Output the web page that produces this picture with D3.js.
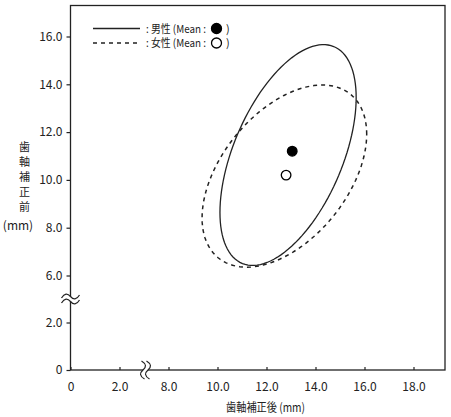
<!DOCTYPE html>
<html>
<head>
<meta charset="utf-8">
<script src="https://cdn.jsdelivr.net/npm/d3@7"></script>
<style>
  body { margin: 0; background: #fff; }
  text { font-family: "Noto Sans CJK JP", "Noto Sans", sans-serif; fill: #222; }
</style>
</head>
<body>
<svg id="chart" width="451" height="417"></svg>
<script>
// data
const groups = ['男性', '女性'];
const meanX = [13.05, 12.8];
const meanY = [11.2, 10.2];
// confidence ellipses: centre, spread along x / y, correlation
const ellCx = [12.88, 12.73];
const ellCy = [11.04, 10.16];
const ellSx = [2.78, 3.36];
const ellSy = [4.62, 3.81];
const ellR = [0.52, 0.46];
const xTicks = [0, 2, 8, 10, 12, 14, 16, 18];
const yTicks = [0, 2, 6, 8, 10, 12, 14, 16];
const xBreak = [2, 8];
const yBreak = [2, 6];
const xTitle = '歯軸補正後 (mm)';
const yTitleChars = ['歯', '軸', '補', '正', '前'];

const svg = d3.select('#chart');
const ink = '#222';

// broken axes -> polylinear scales
const x = d3.scaleLinear().domain([0, 2, 8, 18]).range([70.5, 119.5, 168.5, 413.5]);
const y = d3.scaleLinear().domain([0, 2, 6, 16]).range([370, 322.5, 275.5, 36.5]);
const plot = { left: 70.5, right: 445, top: 5.5, bottom: 370 };

const fmt = d => d === 0 ? '0' : d.toFixed(1);

// frame
svg.append('rect')
  .attr('x', plot.left).attr('y', plot.top)
  .attr('width', plot.right - plot.left).attr('height', plot.bottom - plot.top)
  .attr('fill', 'none').attr('stroke', ink).attr('stroke-width', 1.3);

// y axis
const gy = svg.append('g')
  .attr('transform', `translate(${plot.left},0)`)
  .call(d3.axisLeft(y).tickValues(yTicks).tickFormat(fmt).tickSize(4).tickSizeOuter(0).tickPadding(4));
gy.select('.domain').remove();
gy.selectAll('line').attr('stroke', ink).attr('stroke-width', 1.2);
gy.selectAll('text').attr('font-size', 12);
gy.attr('font-family', null);

// x axis, ticks pointing inward
const gx = svg.append('g')
  .attr('transform', `translate(0,${plot.bottom})`)
  .call(d3.axisBottom(x).tickValues(xTicks).tickFormat(fmt).tickSize(-3).tickSizeOuter(0).tickPadding(12));
gx.select('.domain').remove();
gx.selectAll('line').attr('stroke', ink).attr('stroke-width', 1.2);
gx.selectAll('text').attr('font-size', 12);
gx.attr('font-family', null);

// axis break marks
const wave = 'M-9,1.5 C-6,-3.5 -3,-3.5 0,0 S6,3.5 9,-1.5';
function breakMark(cx, cy, angle) {
  const g = svg.append('g').attr('transform', `translate(${cx},${cy}) rotate(${angle})`);
  g.append('rect').attr('x', -4).attr('y', -2.5).attr('width', 8).attr('height', 5).attr('fill', '#fff');
  [-2.5, 2.5].forEach(o => {
    g.append('path').attr('d', wave).attr('transform', `translate(0,${o})`)
      .attr('fill', 'none').attr('stroke', ink).attr('stroke-width', 1.2);
  });
}
breakMark(plot.left, (y(yBreak[0]) + y(yBreak[1])) / 2, 0);
breakMark((x(xBreak[0]) + x(xBreak[1])) / 2 + 1.5, plot.bottom, 90);

// ellipses
const steps = d3.range(0, 361, 3).map(a => a * Math.PI / 180);
const line = d3.line().x(d => x(d[0])).y(d => y(d[1])).curve(d3.curveLinearClosed);
groups.forEach((g, i) => {
  const pts = steps.map(t => [
    ellCx[i] + ellSx[i] * Math.cos(t),
    ellCy[i] + ellSy[i] * (ellR[i] * Math.cos(t) + Math.sqrt(1 - ellR[i] * ellR[i]) * Math.sin(t))
  ]);
  svg.append('path')
    .attr('d', line(pts))
    .attr('fill', 'none')
    .attr('stroke', ink)
    .attr('stroke-width', i === 0 ? 1.3 : 1.5)
    .attr('stroke-dasharray', i === 0 ? null : '4,4');
});

// means
groups.forEach((g, i) => {
  svg.append('circle')
    .attr('cx', x(meanX[i])).attr('cy', y(meanY[i])).attr('r', 4.8)
    .attr('fill', i === 0 ? '#000' : '#fff')
    .attr('stroke', '#000').attr('stroke-width', 1.3);
});

// legend
const legY = [28.5, 43];
groups.forEach((g, i) => {
  svg.append('line')
    .attr('x1', 93).attr('x2', 140).attr('y1', legY[i]).attr('y2', legY[i])
    .attr('stroke', ink).attr('stroke-width', 1.3)
    .attr('stroke-dasharray', i === 0 ? null : '4,4');
  svg.append('text').attr('x', 146).attr('y', legY[i] + 4)
    .attr('font-size', 11)
    .attr('textLength', 60).attr('lengthAdjust', 'spacingAndGlyphs')
    .text(`: ${g} (Mean :`);
  svg.append('circle').attr('cx', 216.5).attr('cy', legY[i]).attr('r', 5)
    .attr('fill', i === 0 ? '#000' : '#fff').attr('stroke', '#000').attr('stroke-width', 1.3);
  svg.append('text').attr('x', 226).attr('y', legY[i] + 4)
    .attr('font-size', 11).text(')');
});

// axis titles
svg.append('text').attr('x', 226).attr('y', 412)
  .attr('font-size', 12)
  .attr('textLength', 79).attr('lengthAdjust', 'spacingAndGlyphs')
  .text(xTitle);
yTitleChars.forEach((c, i) => {
  svg.append('text').attr('x', 24.5).attr('y', 151 + i * 15)
    .attr('text-anchor', 'middle').attr('font-size', 11).text(c);
});
svg.append('text').attr('x', 18).attr('y', 229.5)
  .attr('text-anchor', 'middle').attr('font-size', 12).text('(mm)');
</script>
</body>
</html>
